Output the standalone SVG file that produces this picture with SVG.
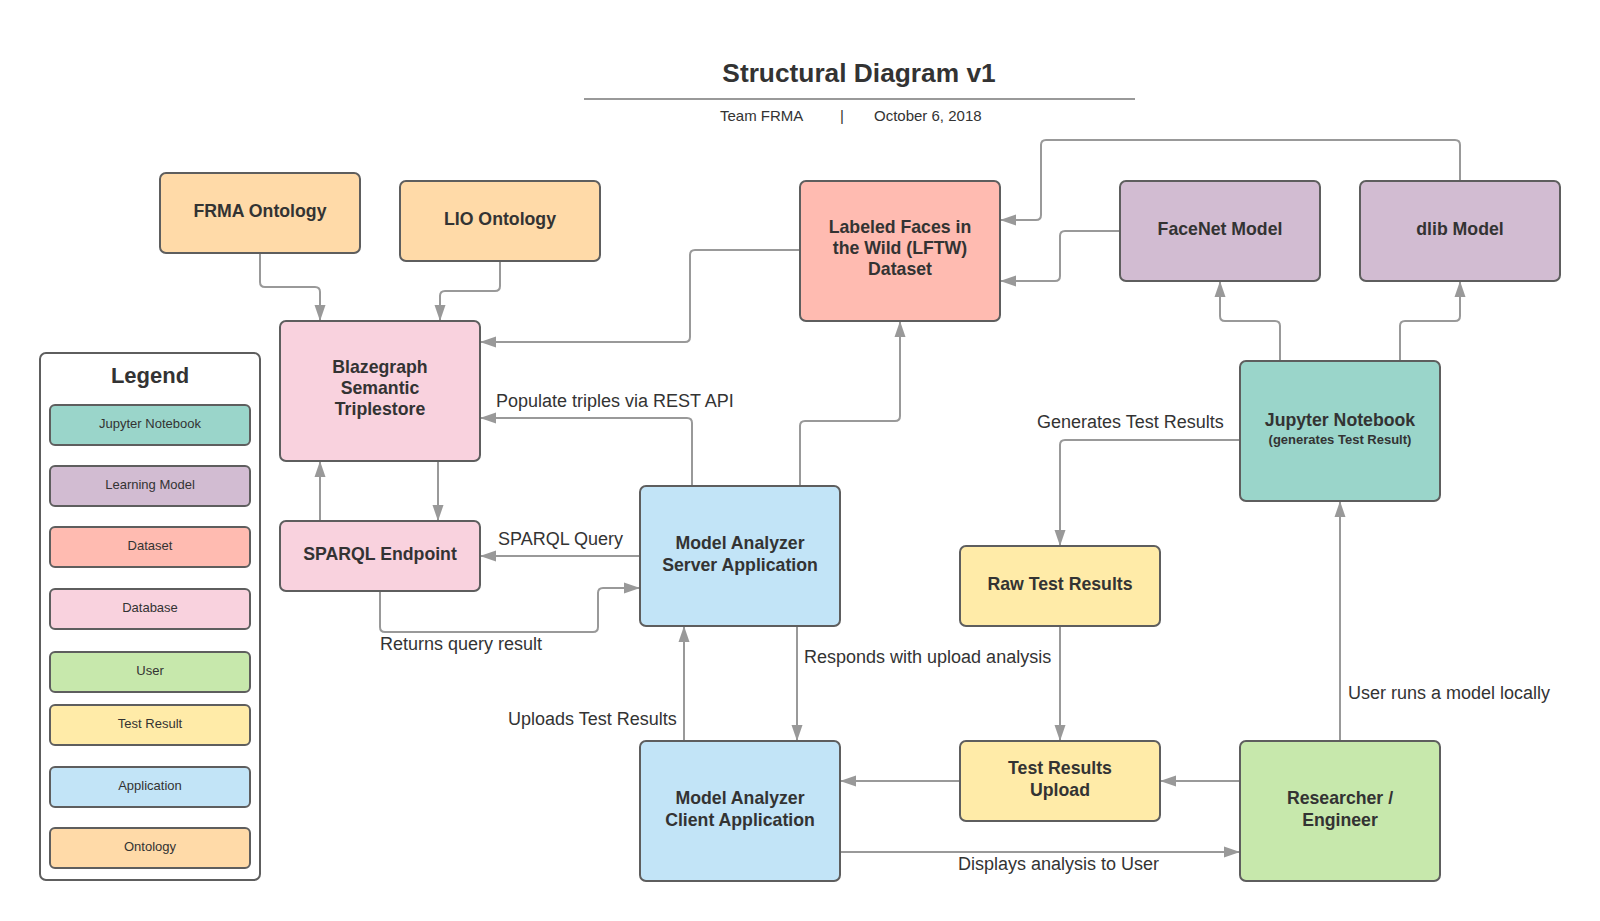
<svg xmlns="http://www.w3.org/2000/svg" width="1600" height="921" viewBox="0 0 1600 921">
<style>
.n{stroke:#5e5e5e;stroke-width:2}
.ont{fill:#ffdaa8}.db{fill:#f9d2de}.ds{fill:#ffbbb1}.lm{fill:#d2bcd2}.jn{fill:#9ad5ca}.app{fill:#c2e4f7}.tr{fill:#ffeba8}.usr{fill:#c7e8ac}
.t{font-family:"Liberation Sans",Arial,sans-serif;font-weight:bold;font-size:17.7px;fill:#333;text-anchor:middle}
.ts{font-family:"Liberation Sans",Arial,sans-serif;font-weight:bold;font-size:13px;fill:#333;text-anchor:middle}
.lg{font-family:"Liberation Sans",Arial,sans-serif;font-size:13px;fill:#333;text-anchor:middle}
.lb{font-family:"Liberation Sans",Arial,sans-serif;font-size:18px;fill:#333}
.c path{fill:none;stroke:#999;stroke-width:2;marker-end:url(#ah)}
</style>
<defs>
<marker id="ah" markerUnits="userSpaceOnUse" markerWidth="16" markerHeight="12" refX="16" refY="6" orient="auto">
<path d="M0,0.5 L16,6 L0,11.5 z" fill="#999"/>
</marker>
</defs>
<rect width="1600" height="921" fill="#fff"/>
<g id="header">
<text x="859" y="82" font-family="Liberation Sans,Arial,sans-serif" font-weight="bold" font-size="26.3" fill="#333" text-anchor="middle">Structural Diagram v1</text>
<line x1="584" y1="99" x2="1135" y2="99" stroke="#999" stroke-width="2"/>
<text x="720" y="121" font-family="Liberation Sans,Arial,sans-serif" font-size="15" fill="#333">Team FRMA</text>
<text x="840" y="121" font-family="Liberation Sans,Arial,sans-serif" font-size="15" fill="#333">|</text>
<text x="874" y="121" font-family="Liberation Sans,Arial,sans-serif" font-size="15" fill="#333">October 6, 2018</text>
</g>
<g id="legend">
<rect x="40" y="353" width="220" height="527" rx="6" fill="#fff" stroke="#5e5e5e" stroke-width="2"/>
<text x="150" y="383" font-family="Liberation Sans,Arial,sans-serif" font-weight="bold" font-size="22" fill="#333" text-anchor="middle">Legend</text>
<rect class="n jn" x="50" y="405" width="200" height="40" rx="5"/><text class="lg" x="150" y="428">Jupyter Notebook</text>
<rect class="n lm" x="50" y="466" width="200" height="40" rx="5"/><text class="lg" x="150" y="489">Learning Model</text>
<rect class="n ds" x="50" y="527" width="200" height="40" rx="5"/><text class="lg" x="150" y="550">Dataset</text>
<rect class="n db" x="50" y="589" width="200" height="40" rx="5"/><text class="lg" x="150" y="612">Database</text>
<rect class="n usr" x="50" y="652" width="200" height="40" rx="5"/><text class="lg" x="150" y="675">User</text>
<rect class="n tr" x="50" y="705" width="200" height="40" rx="5"/><text class="lg" x="150" y="728">Test Result</text>
<rect class="n app" x="50" y="767" width="200" height="40" rx="5"/><text class="lg" x="150" y="790">Application</text>
<rect class="n ont" x="50" y="828" width="200" height="40" rx="5"/><text class="lg" x="150" y="851">Ontology</text>
</g>
<g class="c" id="connectors">
<path d="M260,253 V282 Q260,287 265,287 H315 Q320,287 320,292 V321"/>
<path d="M500,261 V286 Q500,291 495,291 H445 Q440,291 440,296 V321"/>
<path d="M800,250 H695 Q690,250 690,255 V337 Q690,342 685,342 H480"/>
<path d="M692,486 V423 Q692,418 687,418 H480"/>
<path d="M438,461 V521"/>
<path d="M320,521 V461"/>
<path d="M640,556 H480"/>
<path d="M380,591 V627 Q380,632 385,632 H593 Q598,632 598,627 V593 Q598,588 603,588 H640"/>
<path d="M800,486 V426 Q800,421 805,421 H895 Q900,421 900,416 V321"/>
<path d="M1460,181 V145 Q1460,140 1455,140 H1046 Q1041,140 1041,145 V215 Q1041,220 1036,220 H1000"/>
<path d="M1120,231 H1065 Q1060,231 1060,236 V276 Q1060,281 1055,281 H1000"/>
<path d="M1280,361 V326 Q1280,321 1275,321 H1225 Q1220,321 1220,316 V281"/>
<path d="M1400,361 V326 Q1400,321 1405,321 H1455 Q1460,321 1460,316 V281"/>
<path d="M1240,440 H1065 Q1060,440 1060,445 V546"/>
<path d="M1060,626 V741"/>
<path d="M797,626 V741"/>
<path d="M684,741 V626"/>
<path d="M960,781 H840"/>
<path d="M1240,781 H1160"/>
<path d="M1340,741 V501"/>
<path d="M840,852 H1240"/>
</g>
<g id="labels">
<text class="lb" x="496" y="407">Populate triples via REST API</text>
<text class="lb" x="498" y="545">SPARQL Query</text>
<text class="lb" x="380" y="650">Returns query result</text>
<text class="lb" x="508" y="725">Uploads Test Results</text>
<text class="lb" x="804" y="663">Responds with upload analysis</text>
<text class="lb" x="1037" y="428">Generates Test Results</text>
<text class="lb" x="1348" y="699">User runs a model locally</text>
<text class="lb" x="958" y="870">Displays analysis to User</text>
</g>
<g id="frma"><rect class="n ont" x="160" y="173" width="200" height="80" rx="6"/><text class="t" x="260" y="217">FRMA Ontology</text></g>
<g id="lio"><rect class="n ont" x="400" y="181" width="200" height="80" rx="6"/><text class="t" x="500" y="225">LIO Ontology</text></g>
<g id="blazegraph"><rect class="n db" x="280" y="321" width="200" height="140" rx="6"/><text class="t" x="380" y="373">Blazegraph</text><text class="t" x="380" y="394">Semantic</text><text class="t" x="380" y="415">Triplestore</text></g>
<g id="lftw"><rect class="n ds" x="800" y="181" width="200" height="140" rx="6"/><text class="t" x="900" y="233">Labeled Faces in</text><text class="t" x="900" y="254">the Wild (LFTW)</text><text class="t" x="900" y="275">Dataset</text></g>
<g id="facenet"><rect class="n lm" x="1120" y="181" width="200" height="100" rx="6"/><text class="t" x="1220" y="235">FaceNet Model</text></g>
<g id="dlib"><rect class="n lm" x="1360" y="181" width="200" height="100" rx="6"/><text class="t" x="1460" y="235">dlib Model</text></g>
<g id="sparql"><rect class="n db" x="280" y="521" width="200" height="70" rx="6"/><text class="t" x="380" y="560">SPARQL Endpoint</text></g>
<g id="server"><rect class="n app" x="640" y="486" width="200" height="140" rx="6"/><text class="t" x="740" y="549">Model Analyzer</text><text class="t" x="740" y="571">Server Application</text></g>
<g id="jupyter"><rect class="n jn" x="1240" y="361" width="200" height="140" rx="6"/><text class="t" x="1340" y="426">Jupyter Notebook</text><text class="ts" x="1340" y="444">(generates Test Result)</text></g>
<g id="raw"><rect class="n tr" x="960" y="546" width="200" height="80" rx="6"/><text class="t" x="1060" y="590">Raw Test Results</text></g>
<g id="upload"><rect class="n tr" x="960" y="741" width="200" height="80" rx="6"/><text class="t" x="1060" y="774">Test Results</text><text class="t" x="1060" y="796">Upload</text></g>
<g id="client"><rect class="n app" x="640" y="741" width="200" height="140" rx="6"/><text class="t" x="740" y="804">Model Analyzer</text><text class="t" x="740" y="826">Client Application</text></g>
<g id="researcher"><rect class="n usr" x="1240" y="741" width="200" height="140" rx="6"/><text class="t" x="1340" y="804">Researcher /</text><text class="t" x="1340" y="826">Engineer</text></g>
</svg>
